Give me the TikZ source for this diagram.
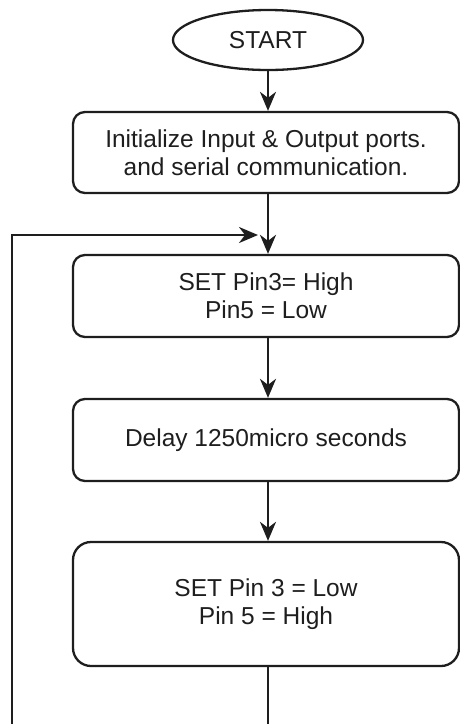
\documentclass[tikz,border=0pt]{standalone}
\usepackage{fontspec}
\setmainfont{Liberation Sans}
\usetikzlibrary{arrows.meta,shapes.geometric}
\definecolor{ink}{HTML}{1E1E1E}
\begin{document}
\begin{tikzpicture}[x=1pt,y=-1pt,
  every node/.style={font=\fontsize{24.5}{28}\selectfont, text=ink, align=center, inner sep=0pt},
  flowline/.style={draw=ink, line width=2.3pt},
  flowarrow/.style={flowline, -{Stealth[length=19pt,width=16pt,inset=6pt]}},
  procbox/.style={draw=ink, line width=2.3pt, minimum width=386pt, rounded corners=12pt},
  terminal/.style={draw=ink, line width=2.3pt, ellipse, minimum width=190pt, minimum height=60pt}]
  \useasboundingbox (0,0) rectangle (460,724);

  % flowchart column
  \coordinate (col) at (268,0);

  \node[terminal] (start) at (268,40) {START};
  \node[procbox, minimum height=81pt] (init) at (266,152.5)
    {Initialize Input \& Output ports.\\ and serial communication.};
  \node[procbox, minimum height=82pt] (sethigh) at (266,296)
    {SET Pin3= High\\ Pin5 = Low};
  \node[procbox, minimum height=82pt] (delay) at (266,440)
    {Delay 1250micro seconds};
  \node[procbox, minimum height=124pt, rounded corners=18pt] (setlow) at (266,604)
    {SET Pin 3 = Low\\ Pin 5 = High};

  % loop-back path
  \coordinate (bottomout) at (268,724);
  \coordinate (loopbottom) at (12,724);
  \coordinate (looptop) at (12,235);
  \coordinate (loopend) at (258,235);

  \draw[flowarrow] (start.south) -- (init.north -| col);
  \draw[flowarrow] (init.south -| col) -- (sethigh.north -| col);
  \draw[flowarrow] (sethigh.south -| col) -- (delay.north -| col);
  \draw[flowarrow] (delay.south -| col) -- (setlow.north -| col);
  \draw[flowline] (setlow.south -| col) -- (bottomout);
  \draw[flowarrow] (loopbottom) -- (looptop) -- (loopend);
\end{tikzpicture}
\end{document}
